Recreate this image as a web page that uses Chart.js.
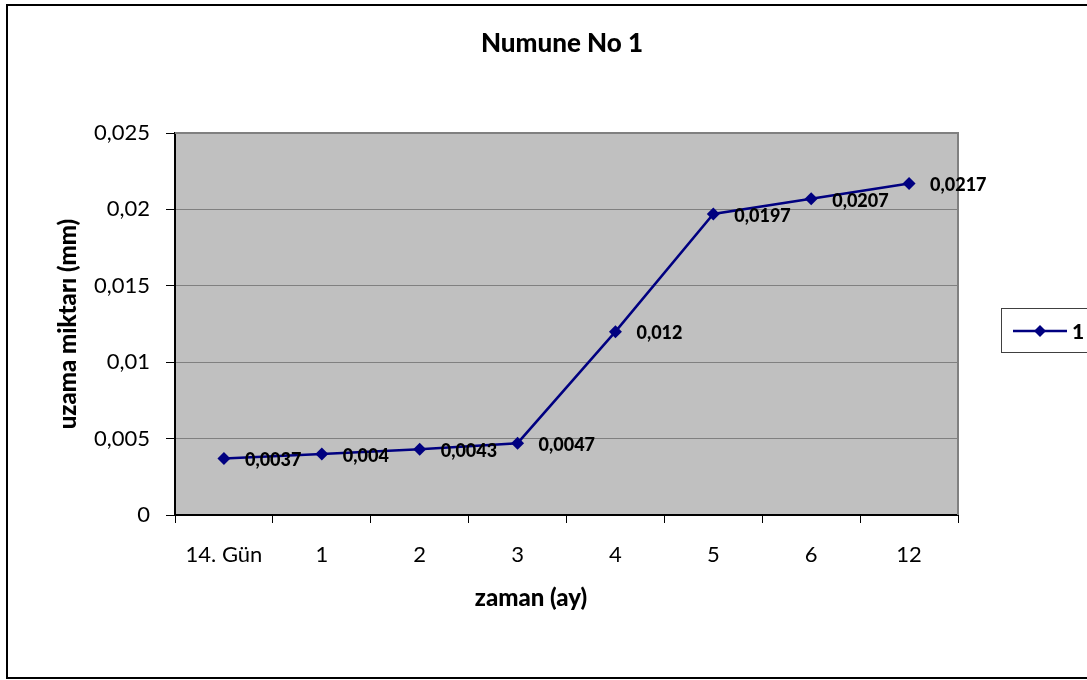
<!DOCTYPE html>
<html>
<head>
<meta charset="utf-8">
<script src="https://cdn.jsdelivr.net/npm/chart.js@4"></script>
<style>
  body { margin: 0; background: #fff; }
  canvas { display: block; }
</style>
</head>
<body>
<canvas id="myChart" width="1087" height="680"></canvas>
<script>
// veriler
const categories = ['14. Gün', '1', '2', '3', '4', '5', '6', '12'];
const seriesName = '1';
const uzama = [0.0037, 0.004, 0.0043, 0.0047, 0.012, 0.0197, 0.0207, 0.0217];
const yTicks = [0, 0.005, 0.01, 0.015, 0.02, 0.025];

const chartTitle = 'Numune No 1';
const xTitle = 'zaman (ay)';
const yTitle = 'uzama miktarı (mm)';

const FONT = 'Lato, "Liberation Sans", sans-serif';
const navy = '#000080';

const fmt = v => String(v).replace('.', ',');

// arka plan, çerçeve, başlık, etiketler ve lejant
const excelLook = {
  id: 'excelLook',
  beforeDraw(chart) {
    const { ctx, chartArea: a } = chart;
    ctx.save();
    ctx.fillStyle = '#fff';
    ctx.fillRect(0, 0, chart.width, chart.height);
    ctx.strokeStyle = '#000';
    ctx.lineWidth = 2;
    ctx.strokeRect(7, 5, 1100, 673);
    ctx.fillStyle = '#C0C0C0';
    ctx.fillRect(a.left, a.top, a.right - a.left, a.bottom - a.top);
    ctx.restore();
  },
  beforeDatasetsDraw(chart) {
    const { ctx, chartArea: a } = chart;
    ctx.save();
    ctx.strokeStyle = '#808080';
    ctx.lineWidth = 2;
    ctx.beginPath();
    ctx.moveTo(a.left, a.top);
    ctx.lineTo(a.right, a.top);
    ctx.lineTo(a.right, a.bottom);
    ctx.stroke();
    ctx.restore();
  },
  afterDraw(chart) {
    const { ctx } = chart;
    ctx.save();
    ctx.fillStyle = '#000';
    ctx.textAlign = 'center';
    ctx.textBaseline = 'middle';
    ctx.font = '900 26px ' + FONT;
    ctx.fillText(chartTitle, 562, 44);
    ctx.font = '900 24px ' + FONT;
    ctx.fillText(xTitle, 531, 598);

    // veri etiketleri
    const meta = chart.getDatasetMeta(0);
    ctx.font = '900 18px ' + FONT;
    ctx.textAlign = 'left';
    meta.data.forEach((pt, i) => {
      ctx.fillText(fmt(uzama[i]), pt.x + 21, pt.y + 2);
    });

    // lejant
    ctx.strokeStyle = '#404040';
    ctx.lineWidth = 1;
    ctx.strokeRect(1001.5, 308.5, 100, 44);
    ctx.strokeStyle = navy;
    ctx.lineWidth = 2.5;
    ctx.beginPath();
    ctx.moveTo(1013, 331);
    ctx.lineTo(1067, 331);
    ctx.stroke();
    ctx.fillStyle = navy;
    ctx.beginPath();
    ctx.moveTo(1040, 325);
    ctx.lineTo(1046, 331);
    ctx.lineTo(1040, 337);
    ctx.lineTo(1034, 331);
    ctx.closePath();
    ctx.fill();
    ctx.fillStyle = '#000';
    ctx.font = '900 21px ' + FONT;
    ctx.fillText(seriesName, 1072, 332);
    ctx.restore();
  }
};

const ctx = document.getElementById('myChart').getContext('2d');

new Chart(ctx, {
  type: 'line',
  data: {
    labels: categories,
    datasets: [{
      label: seriesName,
      data: uzama,
      borderColor: navy,
      backgroundColor: navy,
      borderWidth: 2.5,
      pointStyle: 'rectRot',
      pointRadius: 6.5,
      pointBackgroundColor: navy,
      pointBorderWidth: 0,
      tension: 0,
      fill: false
    }]
  },
  options: {
    responsive: false,
    animation: false,
    devicePixelRatio: 1,
    layout: { padding: { left: 0, right: 129, top: 133, bottom: 0 } },
    plugins: {
      legend: { display: false },
      title: { display: false },
      tooltip: { enabled: false }
    },
    scales: {
      x: {
        offset: true,
        afterFit: s => { s.height = 165; },
        grid: {
          offset: true,
          drawOnChartArea: false,
          drawTicks: true,
          tickLength: 8,
          tickColor: '#000',
          tickWidth: 1
        },
        border: { display: true, color: '#000', width: 2 },
        ticks: {
          color: '#000',
          padding: 19,
          maxRotation: 0,
          font: { family: FONT, size: 22 }
        }
      },
      y: {
        min: 0,
        max: 0.025,
        afterFit: s => { s.width = 175; },
        afterBuildTicks: s => { s.ticks = yTicks.map(v => ({ value: v })); },
        grid: {
          color: '#808080',
          lineWidth: 1,
          tickLength: 9,
          tickColor: '#000',
          tickWidth: 1
        },
        border: { display: true, color: '#000', width: 2 },
        ticks: {
          color: '#000',
          padding: 16,
          font: { family: FONT, size: 22 },
          callback: v => fmt(v)
        },
        title: {
          display: true,
          text: yTitle,
          color: '#000',
          padding: { top: 54, bottom: 0 },
          font: { family: FONT, size: 24, weight: '900' }
        }
      }
    }
  },
  plugins: [excelLook]
});
</script>
</body>
</html>
